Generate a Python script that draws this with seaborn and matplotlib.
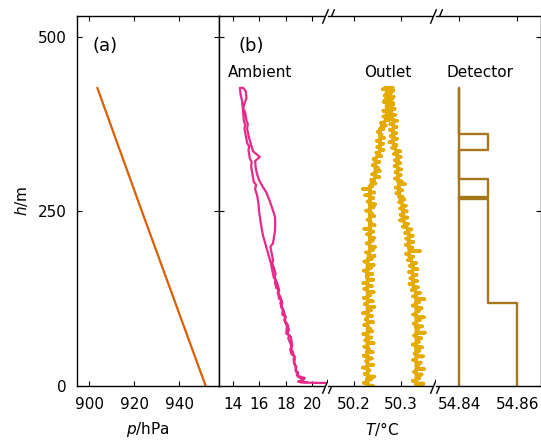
import numpy as np
import matplotlib
matplotlib.use("Agg")
import matplotlib.pyplot as plt
import seaborn as sns

# ------------------------------
# Data
# ------------------------------

# panel (a): pressure vs height
pressure_hpa = [951.7, 923.4, 903.6]
pressure_h = [0, 250, 427]

# ambient temperature, ascent then descent
ambient_t = [21.0, 20.3, 19.6, 19.1, 19.35, 19.0, 18.85, 18.95, 18.75, 18.82, 18.7, 18.6, 18.68, 18.45,
             18.35, 18.45, 18.38, 18.2, 18.28, 18.05, 18.1, 17.9, 17.98, 17.75, 17.8, 17.6, 17.68, 17.5,
             17.45, 17.52, 17.3, 17.2, 17.25, 17.1, 17.0, 16.9, 16.75, 16.6, 16.45, 16.3, 16.2, 16.1,
             16.0, 15.95, 15.85, 15.7, 15.78, 15.6, 15.5, 15.4, 15.45, 15.3, 15.2, 15.25, 15.1, 15.0,
             14.9, 14.95, 14.85, 14.8, 14.75, 14.7, 14.6, 14.55,
             14.8, 15.0, 15.05, 14.9, 14.8, 14.95, 15.05, 15.15, 15.1, 15.25, 15.4, 15.55, 16.05, 15.7,
             15.75, 15.85, 16.0, 16.25, 16.55, 16.8, 17.0, 17.2, 17.22, 17.2, 17.1, 17.05, 16.85,
             16.95, 17.05, 17.0, 17.1, 17.25, 17.15, 17.35, 17.5, 17.4, 17.6, 17.75, 17.65, 17.85,
             18.0, 17.95, 18.15, 18.25, 18.15, 18.4, 18.5, 18.42, 18.55, 18.7, 18.62, 18.75, 18.8,
             18.95, 19.45, 19.3, 18.95, 19.2, 19.6]
ambient_h = [4, 4, 4.5, 6, 9, 12, 15, 19, 22, 27, 30, 38, 42, 45,
             52, 56, 60, 68, 72, 75, 85, 95, 99, 102, 110, 118, 122, 125,
             133, 137, 140, 148, 152, 156, 165, 175, 185, 195, 205, 215, 225, 237,
             250, 262, 273, 282, 288, 292, 303, 315, 320, 326, 338, 343, 348, 358,
             368, 374, 380, 392, 402, 410, 418, 427,
             427, 422, 412, 405, 398, 392, 380, 375, 368, 355, 345, 336, 328, 322,
             312, 303, 295, 286, 277, 265, 254, 242, 232, 222, 210, 204, 199,
             190, 180, 175, 170, 160, 155, 148, 138, 133, 128, 118, 113, 108,
             98, 93, 88, 80, 75, 70, 58, 53, 48, 38, 33, 28, 20,
             14, 11, 8, 6, 4.5, 5]

# outlet temperature: each reading has a base level and a spike
outlet_up_h = [0, 4, 9, 13, 17, 22, 26, 30, 35, 39,
               43, 48, 52, 56, 61, 65, 69, 74, 78, 82,
               87, 91, 95, 100, 104, 108, 113, 117, 121, 126,
               130, 134, 139, 143, 147, 152, 156, 160, 165, 169,
               173, 178, 182, 186, 191, 195, 199, 204, 208, 212,
               217, 221, 225, 230, 234, 238, 243, 247, 251, 256,
               260, 264, 269, 273, 277, 282, 286, 290, 295, 299,
               303, 308, 312, 316, 321, 325, 329, 334, 338, 342,
               347, 351, 355, 360, 364, 368, 373, 377, 381, 386,
               390, 394, 399, 403, 407, 412, 416, 420, 425, 427]
outlet_up_base = [50.229, 50.229, 50.228, 50.229, 50.229, 50.229, 50.228, 50.229, 50.229, 50.229,
                  50.229, 50.228, 50.229, 50.229, 50.229, 50.229, 50.228, 50.229, 50.229, 50.229,
                  50.229, 50.229, 50.228, 50.229, 50.229, 50.229, 50.229, 50.228, 50.229, 50.229,
                  50.229, 50.229, 50.228, 50.229, 50.229, 50.229, 50.229, 50.228, 50.229, 50.229,
                  50.229, 50.229, 50.230, 50.232, 50.233, 50.234, 50.234, 50.233, 50.234, 50.234,
                  50.234, 50.234, 50.234, 50.234, 50.234, 50.234, 50.234, 50.234, 50.234, 50.234,
                  50.234, 50.234, 50.234, 50.234, 50.234, 50.234, 50.234, 50.238, 50.243, 50.246,
                  50.246, 50.246, 50.246, 50.246, 50.246, 50.246, 50.250, 50.254, 50.256, 50.256,
                  50.256, 50.256, 50.256, 50.256, 50.256, 50.256, 50.260, 50.264, 50.268, 50.270,
                  50.270, 50.270, 50.270, 50.270, 50.270, 50.270, 50.270, 50.270, 50.270, 50.270]
outlet_up_spike = [50.240, 50.221, 50.236, 50.243, 50.223, 50.233, 50.219, 50.241, 50.226, 50.238,
                   50.221, 50.240, 50.232, 50.222, 50.242, 50.224, 50.237, 50.220, 50.239, 50.234,
                   50.222, 50.241, 50.225, 50.238, 50.219, 50.236, 50.243, 50.223, 50.240, 50.221,
                   50.235, 50.242, 50.222, 50.238, 50.220, 50.241, 50.227, 50.239, 50.221, 50.236,
                   50.242, 50.222, 50.238, 50.244, 50.226, 50.241, 50.245, 50.227, 50.240, 50.243,
                   50.228, 50.241, 50.222, 50.244, 50.236, 50.229, 50.243, 50.238, 50.226, 50.242,
                   50.245, 50.229, 50.241, 50.224, 50.243, 50.219, 50.239, 50.246, 50.237, 50.254,
                   50.239, 50.255, 50.251, 50.240, 50.254, 50.242, 50.258, 50.248, 50.263, 50.250,
                   50.262, 50.249, 50.264, 50.259, 50.251, 50.263, 50.268, 50.258, 50.275, 50.263,
                   50.281, 50.263, 50.279, 50.284, 50.264, 50.282, 50.266, 50.280, 50.262, 50.283]

outlet_down_h = [427, 423, 419, 414, 410, 406, 401, 397, 393, 388,
                 384, 380, 375, 371, 367, 362, 358, 354, 349, 345,
                 341, 336, 332, 328, 323, 319, 315, 310, 306, 302,
                 297, 293, 289, 284, 280, 276, 271, 267, 263, 258,
                 254, 250, 245, 241, 237, 232, 228, 224, 219, 215,
                 211, 206, 202, 198, 193, 189, 185, 180, 176, 172,
                 167, 163, 159, 154, 150, 146, 141, 137, 133, 128,
                 124, 120, 115, 111, 107, 102, 98, 94, 89, 85,
                 81, 76, 72, 68, 63, 59, 55, 50, 46, 42,
                 37, 33, 29, 24, 20, 16, 11, 7, 3, 0]
outlet_down_base = [50.276, 50.277, 50.276, 50.277, 50.276, 50.277, 50.278, 50.278, 50.279, 50.280,
                    50.282, 50.284, 50.284, 50.285, 50.284, 50.284, 50.285, 50.284, 50.284, 50.285,
                    50.288, 50.291, 50.293, 50.293, 50.294, 50.293, 50.293, 50.294, 50.293, 50.294,
                    50.294, 50.295, 50.296, 50.296, 50.297, 50.296, 50.297, 50.300, 50.302, 50.304,
                    50.305, 50.305, 50.306, 50.305, 50.306, 50.309, 50.312, 50.315, 50.317, 50.318,
                    50.318, 50.317, 50.318, 50.318, 50.319, 50.318, 50.319, 50.322, 50.325, 50.326,
                    50.326, 50.325, 50.326, 50.326, 50.327, 50.326, 50.328, 50.331, 50.333, 50.334,
                    50.334, 50.333, 50.334, 50.334, 50.334, 50.333, 50.334, 50.334, 50.334, 50.333,
                    50.334, 50.334, 50.333, 50.334, 50.334, 50.334, 50.333, 50.334, 50.334, 50.334,
                    50.333, 50.334, 50.334, 50.334, 50.333, 50.334, 50.334, 50.334, 50.333, 50.334]
outlet_down_spike = [50.268, 50.284, 50.270, 50.285, 50.267, 50.283, 50.271, 50.287, 50.272, 50.288,
                     50.276, 50.292, 50.278, 50.291, 50.277, 50.290, 50.279, 50.292, 50.276, 50.291,
                     50.282, 50.299, 50.286, 50.300, 50.288, 50.299, 50.287, 50.301, 50.289, 50.300,
                     50.288, 50.302, 50.309, 50.290, 50.303, 50.291, 50.304, 50.308, 50.297, 50.311,
                     50.299, 50.313, 50.300, 50.314, 50.299, 50.316, 50.305, 50.323, 50.310, 50.326,
                     50.312, 50.327, 50.311, 50.325, 50.341, 50.312, 50.327, 50.316, 50.333, 50.320,
                     50.336, 50.318, 50.334, 50.321, 50.335, 50.319, 50.337, 50.324, 50.342, 50.327,
                     50.351, 50.340, 50.326, 50.345, 50.339, 50.327, 50.350, 50.341, 50.328, 50.346,
                     50.337, 50.352, 50.329, 50.344, 50.339, 50.326, 50.346, 50.340, 50.330, 50.348,
                     50.327, 50.343, 50.338, 50.350, 50.329, 50.345, 50.340, 50.326, 50.349, 50.344]

# detector temperature (quantised steps)
detector_t = [54.86, 54.86, 54.85, 54.85, 54.84, 54.84, 54.84, 54.85, 54.85, 54.84,
              54.84, 54.85, 54.85, 54.84, 54.84]
detector_h = [0, 119, 119, 267, 267, 427, 361, 361, 338, 338,
              297, 297, 271, 271, 0]

dark2 = sns.color_palette("Dark2")
c_pres, c_amb, c_out, c_det = dark2[1], dark2[3], dark2[5], dark2[6]


def spike_path(hs, base, spike):
    h_out, t_out = [], []
    for h, b, s in zip(hs, base, spike):
        h_out += [h, h, h]
        t_out += [b, s, b]
    return h_out, t_out


h1, t1 = spike_path(outlet_up_h, outlet_up_base, outlet_up_spike)
h2, t2 = spike_path(outlet_down_h, outlet_down_base, outlet_down_spike)
outlet_h = h1 + h2
outlet_t = t1 + t2

# ------------------------------
# Figure
# ------------------------------
sns.set_style("ticks")
plt.rcParams.update({
    "font.family": ["DejaVu Sans"],
    "font.size": 11,
    "text.color": "black",
    "axes.labelcolor": "black",
    "xtick.color": "black",
    "ytick.color": "black",
    "axes.linewidth": 1.0,
    "xtick.direction": "in",
    "ytick.direction": "in",
    "xtick.major.size": 3.5,
    "ytick.major.size": 3.5,
    "xtick.major.width": 0.8,
    "ytick.major.width": 0.8,
    "xtick.major.pad": 8,
    "ytick.major.pad": 7.5,
    "xtick.labelsize": 11,
    "ytick.labelsize": 11,
    "axes.edgecolor": "black",
})

W, H = 541, 441
fig = plt.figure(figsize=(W / 100, H / 100), dpi=100)


def box(x0, x1):
    return [x0 / W, 1 - 385.7 / H, (x1 - x0) / W, (385.7 - 16) / H]


ax_a = fig.add_axes(box(77.3, 219.3))
ax_amb = fig.add_axes(box(219.3, 328))
ax_out = fig.add_axes(box(328, 436))
ax_det = fig.add_axes(box(436, 540.7))

sns.lineplot(x=pressure_hpa, y=pressure_h, sort=False, estimator=None, ax=ax_a,
             color=c_pres, linewidth=1.6)
sns.lineplot(x=ambient_t, y=ambient_h, sort=False, estimator=None, ax=ax_amb,
             color=c_amb, linewidth=1.6)
sns.lineplot(x=outlet_t, y=outlet_h, sort=False, estimator=None, ax=ax_out,
             color=c_out, linewidth=2.6)
sns.lineplot(x=detector_t, y=detector_h, sort=False, estimator=None, ax=ax_det,
             color=c_det, linewidth=1.7)

for ax in [ax_a, ax_amb, ax_out, ax_det]:
    ax.set_ylim(0, 530)
    ax.set_yticks([0, 250, 500])
    ax.tick_params(top=True, bottom=True)

ax_a.set_xlim(894.7, 957.8)
ax_a.set_xticks([900, 920, 940])
ax_a.tick_params(axis="y", left=True, right=True)
ax_a.set_xlabel("$p$/hPa", labelpad=6)
ax_a.set_ylabel("$h$/m", labelpad=6)
ax_a.text(0.11, 0.92, "(a)", transform=ax_a.transAxes, fontsize=13, va="center")

ax_amb.set_xlim(13, 21.2)
ax_amb.set_xticks([14, 16, 18, 20])
ax_amb.tick_params(axis="y", left=True, right=False, labelleft=False)
ax_amb.spines["right"].set_visible(False)
ax_amb.text(0.177, 0.92, "(b)", transform=ax_amb.transAxes, fontsize=13, va="center")
ax_amb.text(0.377, 0.8485, "Ambient", transform=ax_amb.transAxes, ha="center", va="center")

ax_out.set_xlim(50.144, 50.376)
ax_out.set_xticks([50.2, 50.3])
ax_out.set_xticklabels(["50.2", "50.3"])
ax_out.tick_params(axis="y", left=False, right=False, labelleft=False)
ax_out.spines["left"].set_visible(False)
ax_out.spines["right"].set_visible(False)
ax_out.set_xlabel("$T$/°C", labelpad=6)
ax_out.text(0.55, 0.8485, "Outlet", transform=ax_out.transAxes, ha="center", va="center")

ax_det.set_xlim(54.832, 54.868)
ax_det.set_xticks([54.84, 54.86])
ax_det.set_xticklabels(["54.84", "54.86"])
ax_det.tick_params(axis="y", left=False, right=True, labelleft=False)
ax_det.spines["left"].set_visible(False)
ax_det.text(0.42, 0.8485, "Detector", transform=ax_det.transAxes, ha="center", va="center")

# broken-axis "//" marks
mask = [(-5, -6), (0, 6), (5, 6), (0, -6)]
slash1 = [(-5, -6), (0, 6)]
slash2 = [(0, -6), (5, 6)]
for ax in [ax_amb, ax_out]:
    kw = dict(transform=ax.transAxes, clip_on=False, linestyle="none", markersize=10.5, zorder=6)
    ax.plot([1, 1], [0, 1], marker=mask, color="white", markeredgewidth=0, **kw)
    ax.plot([1, 1], [0, 1], marker=slash1, color="black", markeredgewidth=1.0, **kw)
    ax.plot([1, 1], [0, 1], marker=slash2, color="black", markeredgewidth=1.0, **kw)

fig.savefig("out.png", dpi=100)
